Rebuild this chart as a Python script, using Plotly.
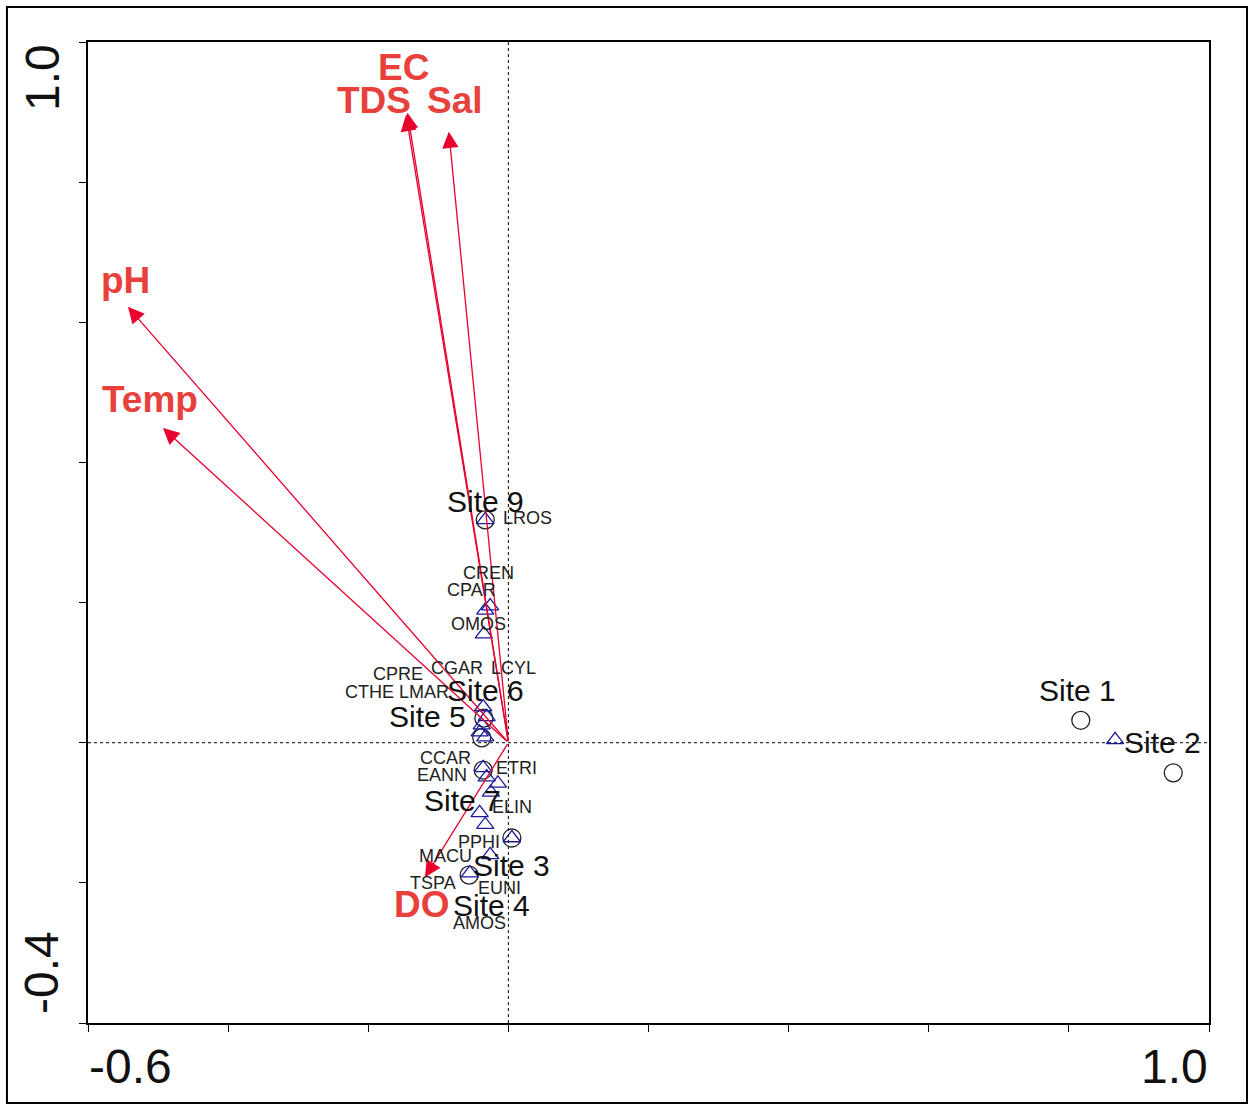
import plotly.graph_objects as go

# ---- Data ----
site_names = ["Site 1", "Site 2", "Site 3", "Site 4", "Site 5", "Site 6", "Site 7", "Site 9"]
site_x = [0.817, 0.949, 0.005, -0.056, -0.038, -0.035, -0.036, -0.033]
site_y = [0.032, -0.043, -0.136, -0.189, 0.007, 0.035, -0.039, 0.318]
site_lab_x = [0.813, 0.933, 0.005, -0.024, -0.116, -0.033, -0.066, -0.032]
site_lab_y = [0.075, 0.000, -0.175, -0.232, 0.037, 0.074, -0.082, 0.344]

species_names = ["AURA", "LROS", "CREN", "CPAR", "OMOS", "CGAR", "LCYL", "CPRE", "CTHE", "LMAR",
                 "CCAR", "EANN", "ETRI", "ELIN", "PPHI", "MACU", "TSPA", "EUNI", "AMOS"]
species_x = [0.866, -0.033, -0.026, -0.033, -0.035, -0.036, -0.031, -0.038, -0.041, -0.033,
             -0.036, -0.031, -0.015, -0.025, 0.005, -0.041, -0.055, -0.026, -0.033]
species_y = [0.004, 0.318, 0.195, 0.189, 0.155, 0.051, 0.037, 0.025, 0.015, 0.008,
             -0.036, -0.049, -0.058, -0.071, -0.136, -0.100, -0.186, -0.160, -0.117]
species_lab_x = [1.063, 0.027, -0.028, -0.052, -0.043, -0.073, 0.008, -0.158, -0.198, -0.121,
                 -0.090, -0.095, 0.012, 0.005, -0.042, -0.090, -0.108, -0.012, -0.041]
species_lab_y = [0.045, 0.321, 0.242, 0.218, 0.169, 0.107, 0.107, 0.098, 0.072, 0.072,
                 -0.022, -0.046, -0.036, -0.092, -0.142, -0.162, -0.200, -0.207, -0.257]

env_names = ["EC", "TDS", "Sal", "pH", "Temp", "DO"]
env_x = [-0.146, -0.144, -0.085, -0.543, -0.493, -0.119]
env_y = [0.896, 0.899, 0.872, 0.622, 0.449, -0.192]
env_lab_x = [-0.150, -0.192, -0.076, -0.546, -0.512, -0.123]
env_lab_y = [0.964, 0.917, 0.917, 0.659, 0.490, -0.231]

x_ticks = [-0.6, -0.4, -0.2, 0.0, 0.2, 0.4, 0.6, 0.8, 1.0]
y_ticks = [-0.4, -0.2, 0.0, 0.2, 0.4, 0.6, 0.8, 1.0]
x_range = [-0.6, 1.0]
y_range = [-0.4, 1.0]

FONT = "Liberation Sans, Arial, sans-serif"
ARROW_COL = "#E8002E"
ENV_TXT_COL = "#E8413C"

fig = go.Figure()

# sites
fig.add_trace(go.Scatter(
    x=site_x, y=site_y, mode="markers", hoverinfo="text", text=site_names,
    marker=dict(symbol="circle-open", size=18, color="#222222", line=dict(width=1.3, color="#222222")),
    showlegend=False))
# species
fig.add_trace(go.Scatter(
    x=species_x, y=species_y, mode="markers", hoverinfo="text", text=species_names,
    marker=dict(symbol="triangle-up-open", size=15, color="#1A1A99", line=dict(width=1.3, color="#1A1A99")),
    showlegend=False))

annotations = []
# env arrows
for n, x, y in zip(env_names, env_x, env_y):
    annotations.append(dict(x=x, y=y, ax=0, ay=0, xref="x", yref="y", axref="x", ayref="y",
                            text="", showarrow=True, arrowhead=2, arrowsize=2.5, arrowwidth=1.3,
                            arrowcolor=ARROW_COL))
# species labels
for n, x, y in zip(species_names, species_lab_x, species_lab_y):
    annotations.append(dict(x=x, y=y, xref="x", yref="y", text=n, showarrow=False,
                            font=dict(family=FONT, size=18, color="#222222"),
                            xanchor="center", yanchor="middle"))
# site labels
for n, x, y in zip(site_names, site_lab_x, site_lab_y):
    annotations.append(dict(x=x, y=y, xref="x", yref="y", text=n, showarrow=False,
                            font=dict(family=FONT, size=30, color="#111111"),
                            xanchor="center", yanchor="middle"))
# env labels
for n, x, y in zip(env_names, env_lab_x, env_lab_y):
    annotations.append(dict(x=x, y=y, xref="x", yref="y", text="<b>%s</b>" % n, showarrow=False,
                            font=dict(family=FONT, size=37, color=ENV_TXT_COL),
                            xanchor="center", yanchor="middle"))

# extreme tick labels
tick_font = dict(family=FONT, size=48, color="#111111")
annotations += [
    dict(x=0.0375, y=-0.044, xref="paper", yref="paper", text="%.1f" % x_range[0], showarrow=False,
         font=tick_font, xanchor="center", yanchor="middle"),
    dict(x=0.9688, y=-0.044, xref="paper", yref="paper", text="%.1f" % x_range[1], showarrow=False,
         font=tick_font, xanchor="center", yanchor="middle"),
    dict(x=-0.041, y=0.9633, xref="paper", yref="paper", text="%.1f" % y_range[1], showarrow=False,
         font=tick_font, xanchor="center", yanchor="middle", textangle=-90),
    dict(x=-0.041, y=0.051, xref="paper", yref="paper", text="%.1f" % y_range[0], showarrow=False,
         font=tick_font, xanchor="center", yanchor="middle", textangle=-90),
]

shapes = [
    dict(type="line", xref="x", yref="y", x0=0, x1=0, y0=y_range[0], y1=y_range[1],
         line=dict(color="black", width=1, dash="dot"), layer="below"),
    dict(type="line", xref="x", yref="y", x0=x_range[0], x1=x_range[1], y0=0, y1=0,
         line=dict(color="black", width=1, dash="dot"), layer="below"),
    # outer frame
    dict(type="rect", xref="paper", yref="paper", x0=-0.0723, x1=1.0339, y0=-0.0815, y1=1.0357,
         line=dict(color="black", width=2), fillcolor="rgba(0,0,0,0)"),
]

axis_common = dict(showgrid=False, zeroline=False, showline=True, linecolor="black", linewidth=1.5,
                   mirror=True, ticks="outside", ticklen=7, tickwidth=1.3, tickcolor="black")

fig.update_layout(
    width=1251, height=1106, autosize=False,
    margin=dict(l=88, r=42, t=42, b=83, pad=0),
    paper_bgcolor="white", plot_bgcolor="white",
    xaxis=dict(range=x_range, tickvals=x_ticks, ticktext=[""] * len(x_ticks), **axis_common),
    yaxis=dict(range=y_range, tickvals=y_ticks, ticktext=[""] * len(y_ticks), **axis_common),
    annotations=annotations, shapes=shapes, font=dict(family=FONT),
)

fig.write_html("out.html", config={"displayModeBar": False},
               post_script="document.body.style.margin='0';document.body.style.overflow='hidden';")
